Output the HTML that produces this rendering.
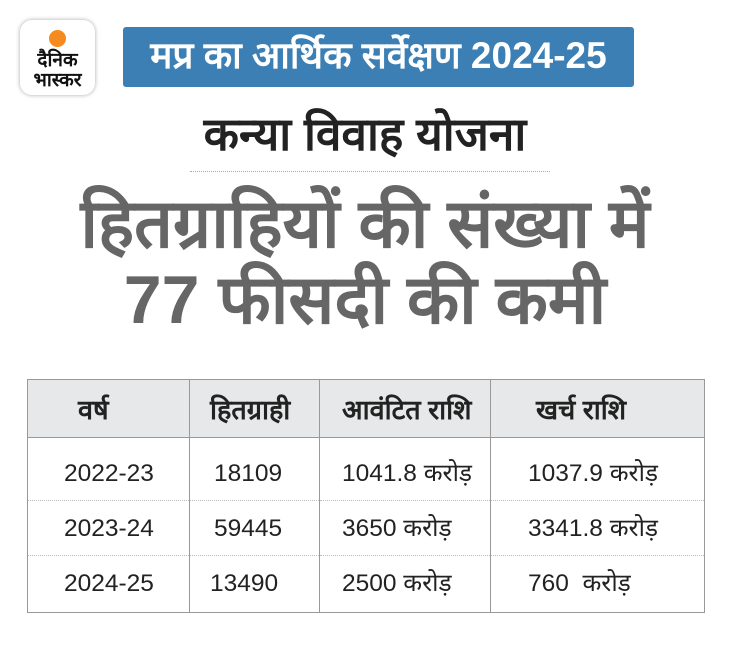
<!DOCTYPE html>
<html><head><meta charset="utf-8"><style>
body{margin:0;width:730px;height:649px;background:#fff;position:relative;overflow:hidden;font-family:"Liberation Sans","Noto Sans CJK SC",sans-serif}
.logo{position:absolute;left:20px;top:20px;width:75px;height:75px;border-radius:12px;background:#fff;box-shadow:0 0 4px rgba(0,0,0,.35)}
.dot{position:absolute;left:29px;top:10px;width:17px;height:17px;border-radius:50%;background:#f58a1f}
.lt{position:absolute;left:0;width:75px;text-align:center;font-weight:bold;font-size:19px;color:#111;line-height:19px}
.banner{position:absolute;left:123px;top:27px;width:511px;height:60px;background:#3b7fb4;border-radius:3px;color:#fff;font-weight:bold;font-size:37px;text-align:center;line-height:58px}
.t1{position:absolute;left:0;width:730px;top:106px;text-align:center;font-weight:bold;font-size:46px;color:#222;line-height:56px}
.dl{position:absolute;left:190px;top:171px;width:360px;border-top:1px dotted #aaa}
.big{position:absolute;left:0;width:730px;text-align:center;font-weight:bold;font-size:68px;color:#666;line-height:76px}
table{position:absolute;left:27px;top:379px;width:678px;border-collapse:collapse;font-size:24.5px;color:#222}
td,th{border-left:1px solid #999;border-right:1px solid #999;text-align:left;padding:0}
th{background:#e6e8e9;height:57px;border-top:1px solid #999;border-bottom:1px solid #999;font-size:27px}
td{border-bottom:1px dotted #bbb;vertical-align:top;line-height:28px}
td span{display:inline-block;height:28px;line-height:28px;vertical-align:top}
tr:last-child td{border-bottom:1px solid #999}
</style></head><body>
<div class="logo"><div class="dot"></div><div class="lt" style="top:31px">दैनिक</div><div class="lt" style="top:51px">भास्कर</div></div>
<div class="banner">मप्र का आर्थिक सर्वेक्षण 2024-25</div>
<div class="t1">कन्या विवाह योजना</div>
<div class="dl"></div>
<div class="big" style="top:186px">हितग्राहियों की संख्या में</div>
<div class="big" style="top:262px">77 फीसदी की कमी</div>
<table>
<tr><th style="width:162px;padding-left:50px;box-sizing:border-box">वर्ष</th><th style="width:130px;padding-left:20px;box-sizing:border-box">हितग्राही</th><th style="width:171px;padding-left:22px;box-sizing:border-box">आवंटित राशि</th><th style="padding-left:45px">खर्च राशि</th></tr>
<tr style="height:63px"><td style="padding:22px 0 0 36px"><span>2022-23</span></td><td style="padding:22px 0 0 24px"><span>18109</span></td><td style="padding:22px 0 0 22px"><span>1041.8 करोड़</span></td><td style="padding:22px 0 0 37px"><span>1037.9 करोड़</span></td></tr>
<tr style="height:55px"><td style="padding:14px 0 0 36px"><span>2023-24</span></td><td style="padding:14px 0 0 24px"><span>59445</span></td><td style="padding:14px 0 0 22px"><span>3650 करोड़</span></td><td style="padding:14px 0 0 37px"><span>3341.8 करोड़</span></td></tr>
<tr style="height:57px"><td style="padding:14px 0 0 36px"><span>2024-25</span></td><td style="padding:14px 0 0 20px"><span>13490</span></td><td style="padding:14px 0 0 22px"><span>2500 करोड़</span></td><td style="padding:14px 0 0 37px"><span>760&nbsp; करोड़</span></td></tr>
</table>
</body></html>
